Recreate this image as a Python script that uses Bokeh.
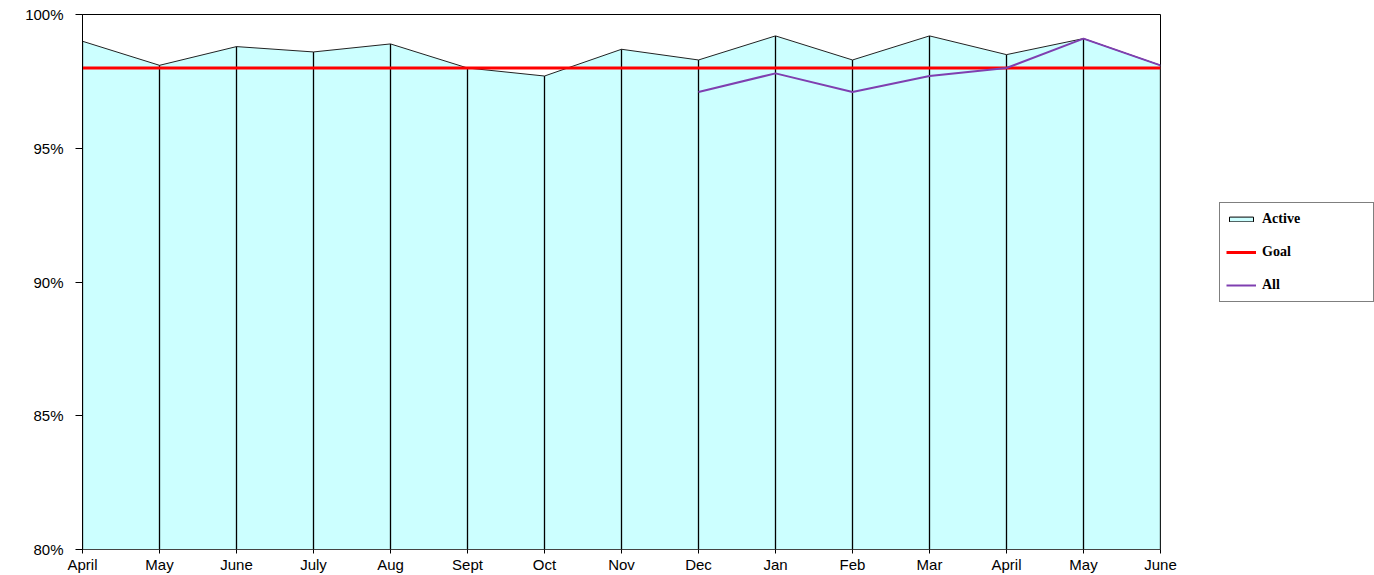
import numpy as np
from bokeh.plotting import figure
from bokeh.layouts import row
from bokeh.models import ColumnDataSource, Range1d, FixedTicker, PrintfTickFormatter, Legend, LegendItem
from bokeh.embed import file_html
from bokeh.resources import INLINE

months = ["April", "May", "June", "July", "Aug", "Sept", "Oct", "Nov", "Dec",
          "Jan", "Feb", "Mar", "April", "May", "June"]
active = [99.0, 98.1, 98.8, 98.6, 98.9, 98.0, 97.7, 98.7, 98.3, 99.2, 98.3, 99.2, 98.5, 99.1, 98.1]
goal = [98.0] * len(months)
all_vals = [np.nan] * 8 + [97.1, 97.8, 97.1, 97.7, 98.0, 99.1, 98.1]
y_ticks = [80, 85, 90, 95, 100]
y_base = 80

FILL = "#CCFFFF"
GOAL_COLOR = "#FF0000"
ALL_COLOR = "#7F3FB0"

xs = list(range(len(months)))
src = ColumnDataSource(dict(x=xs, active=active, goal=goal, allv=all_vals,
                            base=[y_base] * len(xs)))

p = figure(width=1180, height=575, output_backend="svg", toolbar_location=None,
           x_range=Range1d(0, len(months) - 1), y_range=Range1d(80, 100),
           min_border_left=82, min_border_right=20, min_border_top=14, min_border_bottom=22)
p.title.visible = False
p.background_fill_color = "white"
p.border_fill_color = "white"
p.outline_line_color = "black"
p.outline_line_width = 1
p.xgrid.visible = False
p.ygrid.visible = False

p.varea(x="x", y1="base", y2="active", source=src, fill_color=FILL)
p.segment(x0="x", y0="base", x1="x", y1="active", source=src, line_color="black", line_width=1.3)
p.line(x="x", y="active", source=src, line_color="#222222", line_width=1)
p.line(x="x", y="goal", source=src, line_color=GOAL_COLOR, line_width=3)
p.line(x="x", y="allv", source=src, line_color=ALL_COLOR, line_width=2)

p.xaxis.ticker = FixedTicker(ticks=xs)
p.xaxis.major_label_overrides = {i: m for i, m in enumerate(months)}
p.xaxis.major_tick_out = 4
p.xaxis.major_tick_in = 0
p.xaxis.minor_tick_line_color = None
p.xaxis.axis_line_color = "#444444"
p.xaxis.major_label_standoff = 2
p.xaxis.major_label_text_font = "Liberation Sans"
p.xaxis.major_label_text_font_size = "15px"
p.xaxis.major_label_text_color = "black"

p.yaxis.ticker = FixedTicker(ticks=y_ticks)
p.yaxis.formatter = PrintfTickFormatter(format="%d%%")
p.yaxis.major_tick_out = 7
p.yaxis.major_tick_in = 0
p.yaxis.minor_tick_line_color = None
p.yaxis.axis_line_color = "black"
p.yaxis.major_label_standoff = 12
p.yaxis.major_label_text_font = "Liberation Sans"
p.yaxis.major_label_text_font_size = "15px"
p.yaxis.major_label_text_color = "black"

# Legend panel (separate figure to the right of the chart)
lg = figure(width=194, height=575, output_backend="svg", toolbar_location=None,
            x_range=Range1d(0, 1), y_range=Range1d(0, 1),
            x_axis_location=None, y_axis_location=None,
            min_border_left=0, min_border_right=0, min_border_top=0, min_border_bottom=0)
lg.title.visible = False
lg.outline_line_color = None
lg.xgrid.visible = False
lg.ygrid.visible = False
r_active = lg.quad(left=[0], right=[0], top=[0], bottom=[0], fill_color=FILL, line_color="black")
r_goal = lg.line(x=[0, 0], y=[0, 0], line_color=GOAL_COLOR, line_width=3)
r_all = lg.line(x=[0, 0], y=[0, 0], line_color=ALL_COLOR, line_width=2)

legend = Legend(items=[LegendItem(label="Active", renderers=[r_active]),
                       LegendItem(label="Goal", renderers=[r_goal]),
                       LegendItem(label="All", renderers=[r_all])],
                location=(39, 247))
legend.label_text_font = "Liberation Serif"
legend.label_text_font_style = "bold"
legend.label_text_font_size = "14px"
legend.label_text_color = "black"
legend.label_height = 20
legend.spacing = 13
legend.padding = 6
legend.glyph_width = 30
legend.glyph_height = 6
legend.label_standoff = 6
legend.label_width = 105
legend.border_line_color = "black"
legend.border_line_width = 1
legend.background_fill_color = "white"
legend.background_fill_alpha = 1
lg.add_layout(legend)

layout = row(p, lg, spacing=0)
open("out.html", "w").write(file_html(layout, INLINE))
